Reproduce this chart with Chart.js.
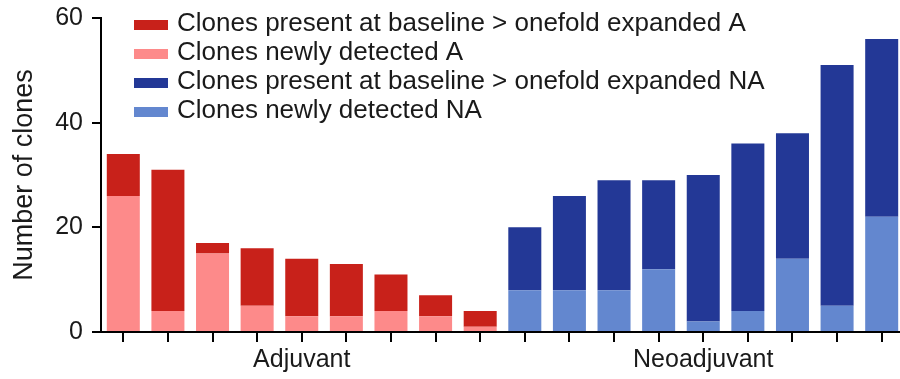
<!DOCTYPE html>
<html>
<head>
<meta charset="utf-8">
<script src="https://cdn.jsdelivr.net/npm/chart.js@4/dist/chart.umd.min.js"></script>
<style>
  html, body { margin: 0; padding: 0; background: #ffffff; overflow: hidden; }
  #wrap { width: 904px; height: 379px; }
</style>
</head>
<body>
<div id="wrap"><canvas id="c" width="904" height="379"></canvas></div>
<script>
// Patient groups and how many patients each holds
const groups = ['Adjuvant', 'Neoadjuvant'];
const groupSizes = [9, 9];
const patients = ['A1','A2','A3','A4','A5','A6','A7','A8','A9',
                  'N1','N2','N3','N4','N5','N6','N7','N8','N9'];

// Clone counts per patient
const adjNew      = [26, 4, 15, 5, 3, 3, 4, 3, 1];
const adjExpanded = [8, 27, 2, 11, 11, 10, 7, 4, 3];
const neoNew      = [8, 8, 8, 12, 2, 4, 14, 5, 22];
const neoExpanded = [12, 18, 21, 17, 28, 32, 24, 46, 34];

const yTicks = [0, 20, 40, 60];

const labelNames = [
  'Clones present at baseline > onefold expanded A',
  'Clones newly detected A',
  'Clones present at baseline > onefold expanded NA',
  'Clones newly detected NA'
];

const FONT = "'Liberation Sans', Arial, Helvetica, sans-serif";
const INK = '#1a1a1a';
const colors = {
  adjExp: '#c8211a',
  adjNew: '#fd8a8a',
  neoExp: '#233896',
  neoNew: '#6387cf'
};

const blanks = n => Array(n).fill(null);
const pad = (vals, before, after) => blanks(before).concat(vals, blanks(after));

const datasets = [
  { label: labelNames[1], data: pad(adjNew, 0, 9), backgroundColor: colors.adjNew },
  { label: labelNames[0], data: pad(adjExpanded, 0, 9), backgroundColor: colors.adjExp },
  { label: labelNames[3], data: pad(neoNew, 9, 0), backgroundColor: colors.neoNew },
  { label: labelNames[2], data: pad(neoExpanded, 9, 0), backgroundColor: colors.neoExp }
];

// Legend drawn inside the plot, top-left
const legendOrder = [1, 0, 3, 2];
const insideLegend = {
  id: 'insideLegend',
  afterDraw(chart) {
    const ctx = chart.ctx;
    ctx.save();
    ctx.font = '26px ' + FONT;
    ctx.textBaseline = 'alphabetic';
    ctx.textAlign = 'left';
    legendOrder.forEach((di, row) => {
      const ds = chart.data.datasets[di];
      const cy = 25 + row * 29;
      ctx.fillStyle = ds.backgroundColor;
      ctx.fillRect(134, cy - 5, 34, 10);
      ctx.fillStyle = INK;
      ctx.fillText(ds.label, 177, cy + 6);
    });
    ctx.restore();
  }
};

// Group names centred under their bars
const groupLabels = {
  id: 'groupLabels',
  afterDraw(chart) {
    const x = chart.scales.x;
    const ctx = chart.ctx;
    ctx.save();
    ctx.font = '25px ' + FONT;
    ctx.fillStyle = INK;
    ctx.textAlign = 'center';
    ctx.textBaseline = 'alphabetic';
    let start = 0;
    groups.forEach((g, i) => {
      const end = start + groupSizes[i] - 1;
      const cx = (x.getPixelForValue(start) + x.getPixelForValue(end)) / 2;
      ctx.fillText(g, cx, 367);
      start = end + 1;
    });
    ctx.restore();
  }
};

new Chart(document.getElementById('c'), {
  type: 'bar',
  data: { labels: patients, datasets },
  options: {
    responsive: false,
    animation: false,
    devicePixelRatio: 1,
    layout: { padding: { top: 18, right: 0, left: 0, bottom: 0 } },
    datasets: { bar: { barPercentage: 1, categoryPercentage: 0.74 } },
    plugins: { legend: { display: false }, tooltip: { enabled: false } },
    scales: {
      x: {
        stacked: true,
        grid: {
          display: true, drawOnChartArea: false, drawTicks: true,
          tickLength: 10, offset: false, color: '#000', lineWidth: 2
        },
        border: { display: true, color: '#000', width: 2 },
        ticks: { display: false },
        afterFit(s) { s.height = 47; s.paddingLeft = 0; s.paddingRight = 0; }
      },
      y: {
        stacked: true,
        min: 0, max: 60,
        afterBuildTicks(s) { s.ticks = yTicks.map(v => ({ value: v })); },
        grid: {
          display: true, drawOnChartArea: false, drawTicks: true,
          tickLength: 9, color: '#000', lineWidth: 2
        },
        border: { display: true, color: '#000', width: 2 },
        ticks: {
          padding: 9, color: INK,
          font: { family: FONT, size: 25 }
        },
        title: {
          display: true, text: 'Number of clones', color: INK,
          font: { family: FONT, size: 27 },
          padding: { top: 8, bottom: 0 }
        },
        afterFit(s) { s.width = 101; s.paddingTop = 0; s.paddingBottom = 0; }
      }
    }
  },
  plugins: [insideLegend, groupLabels]
});
</script>
</body>
</html>
